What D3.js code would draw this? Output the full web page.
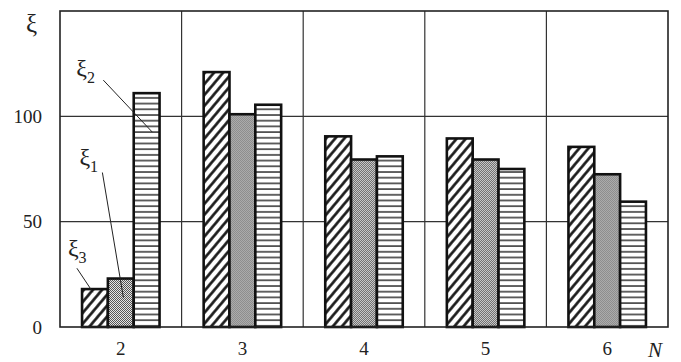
<!DOCTYPE html>
<html>
<head>
<meta charset="utf-8">
<script src="https://cdn.jsdelivr.net/npm/d3@7"></script>
<style>
  html, body { margin: 0; padding: 0; background: #fff; }
  svg { display: block; }
  .axis text { font-family: 'Liberation Serif', serif; font-size: 19px; fill: #222; }
</style>
</head>
<body>
<div id="chart"></div>
<script>
var categories = ['2', '3', '4', '5', '6'];
var series = ['xi3', 'xi1', 'xi2'];
var xi3 = [18, 121, 90.5, 89.5, 85.5];
var xi1 = [23, 101, 79.5, 79.5, 72.5];
var xi2 = [111, 105.5, 81, 75, 59.5];
var yTicks = [0, 50, 100];

var values = { xi3: xi3, xi1: xi1, xi2: xi2 };

function render(container) {
  var width = 681, height = 362;
  var margin = {top: 11, right: 13, bottom: 35, left: 60};

  var svg = container.append('svg')
      .attr('width', width)
      .attr('height', height);

  var defs = svg.append('defs');

  // diagonal hatch
  defs.append('pattern')
      .attr('id', 'hatch')
      .attr('patternUnits', 'userSpaceOnUse')
      .attr('width', 7)
      .attr('height', 7)
      .attr('patternTransform', 'rotate(40)')
    .call(function(p) {
      p.append('rect').attr('width', 7).attr('height', 7).attr('fill', '#fff');
      p.append('line')
        .attr('x1', 1.5).attr('y1', 0).attr('x2', 1.5).attr('y2', 7)
        .attr('stroke', '#111').attr('stroke-width', 2.6);
    });

  // fine dither
  defs.append('pattern')
      .attr('id', 'dots')
      .attr('patternUnits', 'userSpaceOnUse')
      .attr('width', 2)
      .attr('height', 2)
    .call(function(p) {
      p.append('rect').attr('width', 2).attr('height', 2).attr('fill', '#e4e4e4');
      p.append('rect').attr('width', 1).attr('height', 1).attr('fill', '#555');
      p.append('rect').attr('x', 1).attr('y', 1).attr('width', 1).attr('height', 1).attr('fill', '#555');
    });

  // horizontal stripes
  defs.append('pattern')
      .attr('id', 'stripes')
      .attr('patternUnits', 'userSpaceOnUse')
      .attr('width', 6)
      .attr('height', 5.7)
    .call(function(p) {
      p.append('rect').attr('width', 6).attr('height', 5.7).attr('fill', '#fff');
      p.append('line')
        .attr('x1', 0).attr('y1', 1).attr('x2', 6).attr('y2', 1)
        .attr('stroke', '#222').attr('stroke-width', 1.4);
    });

  var fills = { xi3: 'url(#hatch)', xi1: 'url(#dots)', xi2: 'url(#stripes)' };

  var xScale = d3.scaleBand()
    .domain(categories)
    .range([margin.left, width - margin.right]);

  var bw = xScale.bandwidth();
  var groupW = 77.5;
  var subScale = d3.scaleBand()
    .domain(series)
    .range([bw / 2 - groupW / 2, bw / 2 + groupW / 2]);

  var yScale = d3.scaleLinear()
    .domain([0, 150])
    .range([height - margin.bottom, margin.top]);

  var y0 = yScale(0);

  // grid: horizontal lines at ticks, vertical dividers between groups
  svg.append('g')
      .attr('class', 'grid')
    .selectAll('line.h')
      .data(yTicks.filter(function(d) { return d > 0; }))
    .enter().append('line')
      .attr('x1', margin.left)
      .attr('x2', width - margin.right)
      .attr('y1', function(d) { return yScale(d); })
      .attr('y2', function(d) { return yScale(d); })
      .attr('stroke', '#333')
      .attr('stroke-width', 1.2);

  svg.select('.grid')
    .selectAll('line.v')
      .data(categories.slice(1))
    .enter().append('line')
      .attr('x1', function(d) { return xScale(d); })
      .attr('x2', function(d) { return xScale(d); })
      .attr('y1', yScale(150))
      .attr('y2', y0)
      .attr('stroke', '#333')
      .attr('stroke-width', 1.2);

  var groups = svg.append('g')
      .attr('class', 'bars')
    .selectAll('g')
      .data(categories)
    .enter().append('g')
      .attr('transform', function(d) { return 'translate(' + xScale(d) + ',0)'; });

  groups.selectAll('rect')
      .data(function(c, i) {
        return series.map(function(s) { return {key: s, value: values[s][i]}; });
      })
    .enter().append('rect')
      .attr('x', function(d) { return subScale(d.key); })
      .attr('y', function(d) { return yScale(d.value); })
      .attr('width', subScale.bandwidth())
      .attr('height', function(d) { return y0 - yScale(d.value); })
      .attr('fill', function(d) { return fills[d.key]; })
      .attr('stroke', '#111')
      .attr('stroke-width', 2.6);

  // frame
  svg.append('rect')
      .attr('x', margin.left)
      .attr('y', yScale(150))
      .attr('width', width - margin.right - margin.left)
      .attr('height', y0 - yScale(150))
      .attr('fill', 'none')
      .attr('stroke', '#222')
      .attr('stroke-width', 1.6);

  var yAxis = d3.axisLeft(yScale)
    .tickValues(yTicks)
    .tickSize(0)
    .tickPadding(18);

  svg.append('g')
      .attr('class', 'axis axis--y')
      .attr('transform', 'translate(' + margin.left + ',0)')
      .call(yAxis);

  var xAxis = d3.axisBottom(xScale)
    .tickSize(0)
    .tickPadding(15);

  svg.append('g')
      .attr('class', 'axis axis--x')
      .attr('transform', 'translate(0,' + y0 + ')')
      .call(xAxis);

  svg.selectAll('.axis .domain').remove();
  svg.selectAll('.axis text').attr('font-family', null).attr('font-size', null);

  // axis titles
  svg.append('text')
      .attr('x', 26)
      .attr('y', 32)
      .attr('font-family', 'Liberation Serif, serif')
      .attr('font-size', 25)
      .attr('fill', '#222')
      .text('ξ');

  svg.append('text')
      .attr('x', 648)
      .attr('y', y0 + 30)
      .attr('font-family', 'Liberation Serif, serif')
      .attr('font-style', 'italic')
      .attr('font-size', 21)
      .attr('fill', '#222')
      .text('N');

  // leader labels on the first group
  var notes = [
    {key: 'xi2', sub: '2', at: 92.5, fx: 0.72, dx: -49, dy: -52, lx: -27, ly: -4},
    {key: 'xi1', sub: '1', at: 14, fx: 0.6, dx: -21, dy: -125, lx: -23, ly: -8},
    {key: 'xi3', sub: '3', at: 16.5, fx: 0.42, dx: -16, dy: -24, lx: -9, ly: -12}
  ];

  var ann = svg.append('g')
      .attr('class', 'notes');

  notes.forEach(function(n) {
    var ex = xScale(categories[0]) + subScale(n.key) + subScale.bandwidth() * n.fx;
    var ey = yScale(n.at);
    var sx = ex + n.dx;
    var sy = ey + n.dy;

    ann.append('line')
        .attr('x1', sx).attr('y1', sy)
        .attr('x2', ex).attr('y2', ey)
        .attr('stroke', '#222')
        .attr('stroke-width', 1);

    var t = ann.append('text')
        .attr('x', sx + n.lx)
        .attr('y', sy + n.ly)
        .attr('font-family', 'Liberation Serif, serif')
        .attr('font-size', 24)
        .attr('fill', '#222')
        .text('ξ');

    t.append('tspan')
        .attr('font-size', 16)
        .attr('dy', 7)
        .text(n.sub);
  });
}

d3.select('#chart').call(render);
</script>
</body>
</html>
